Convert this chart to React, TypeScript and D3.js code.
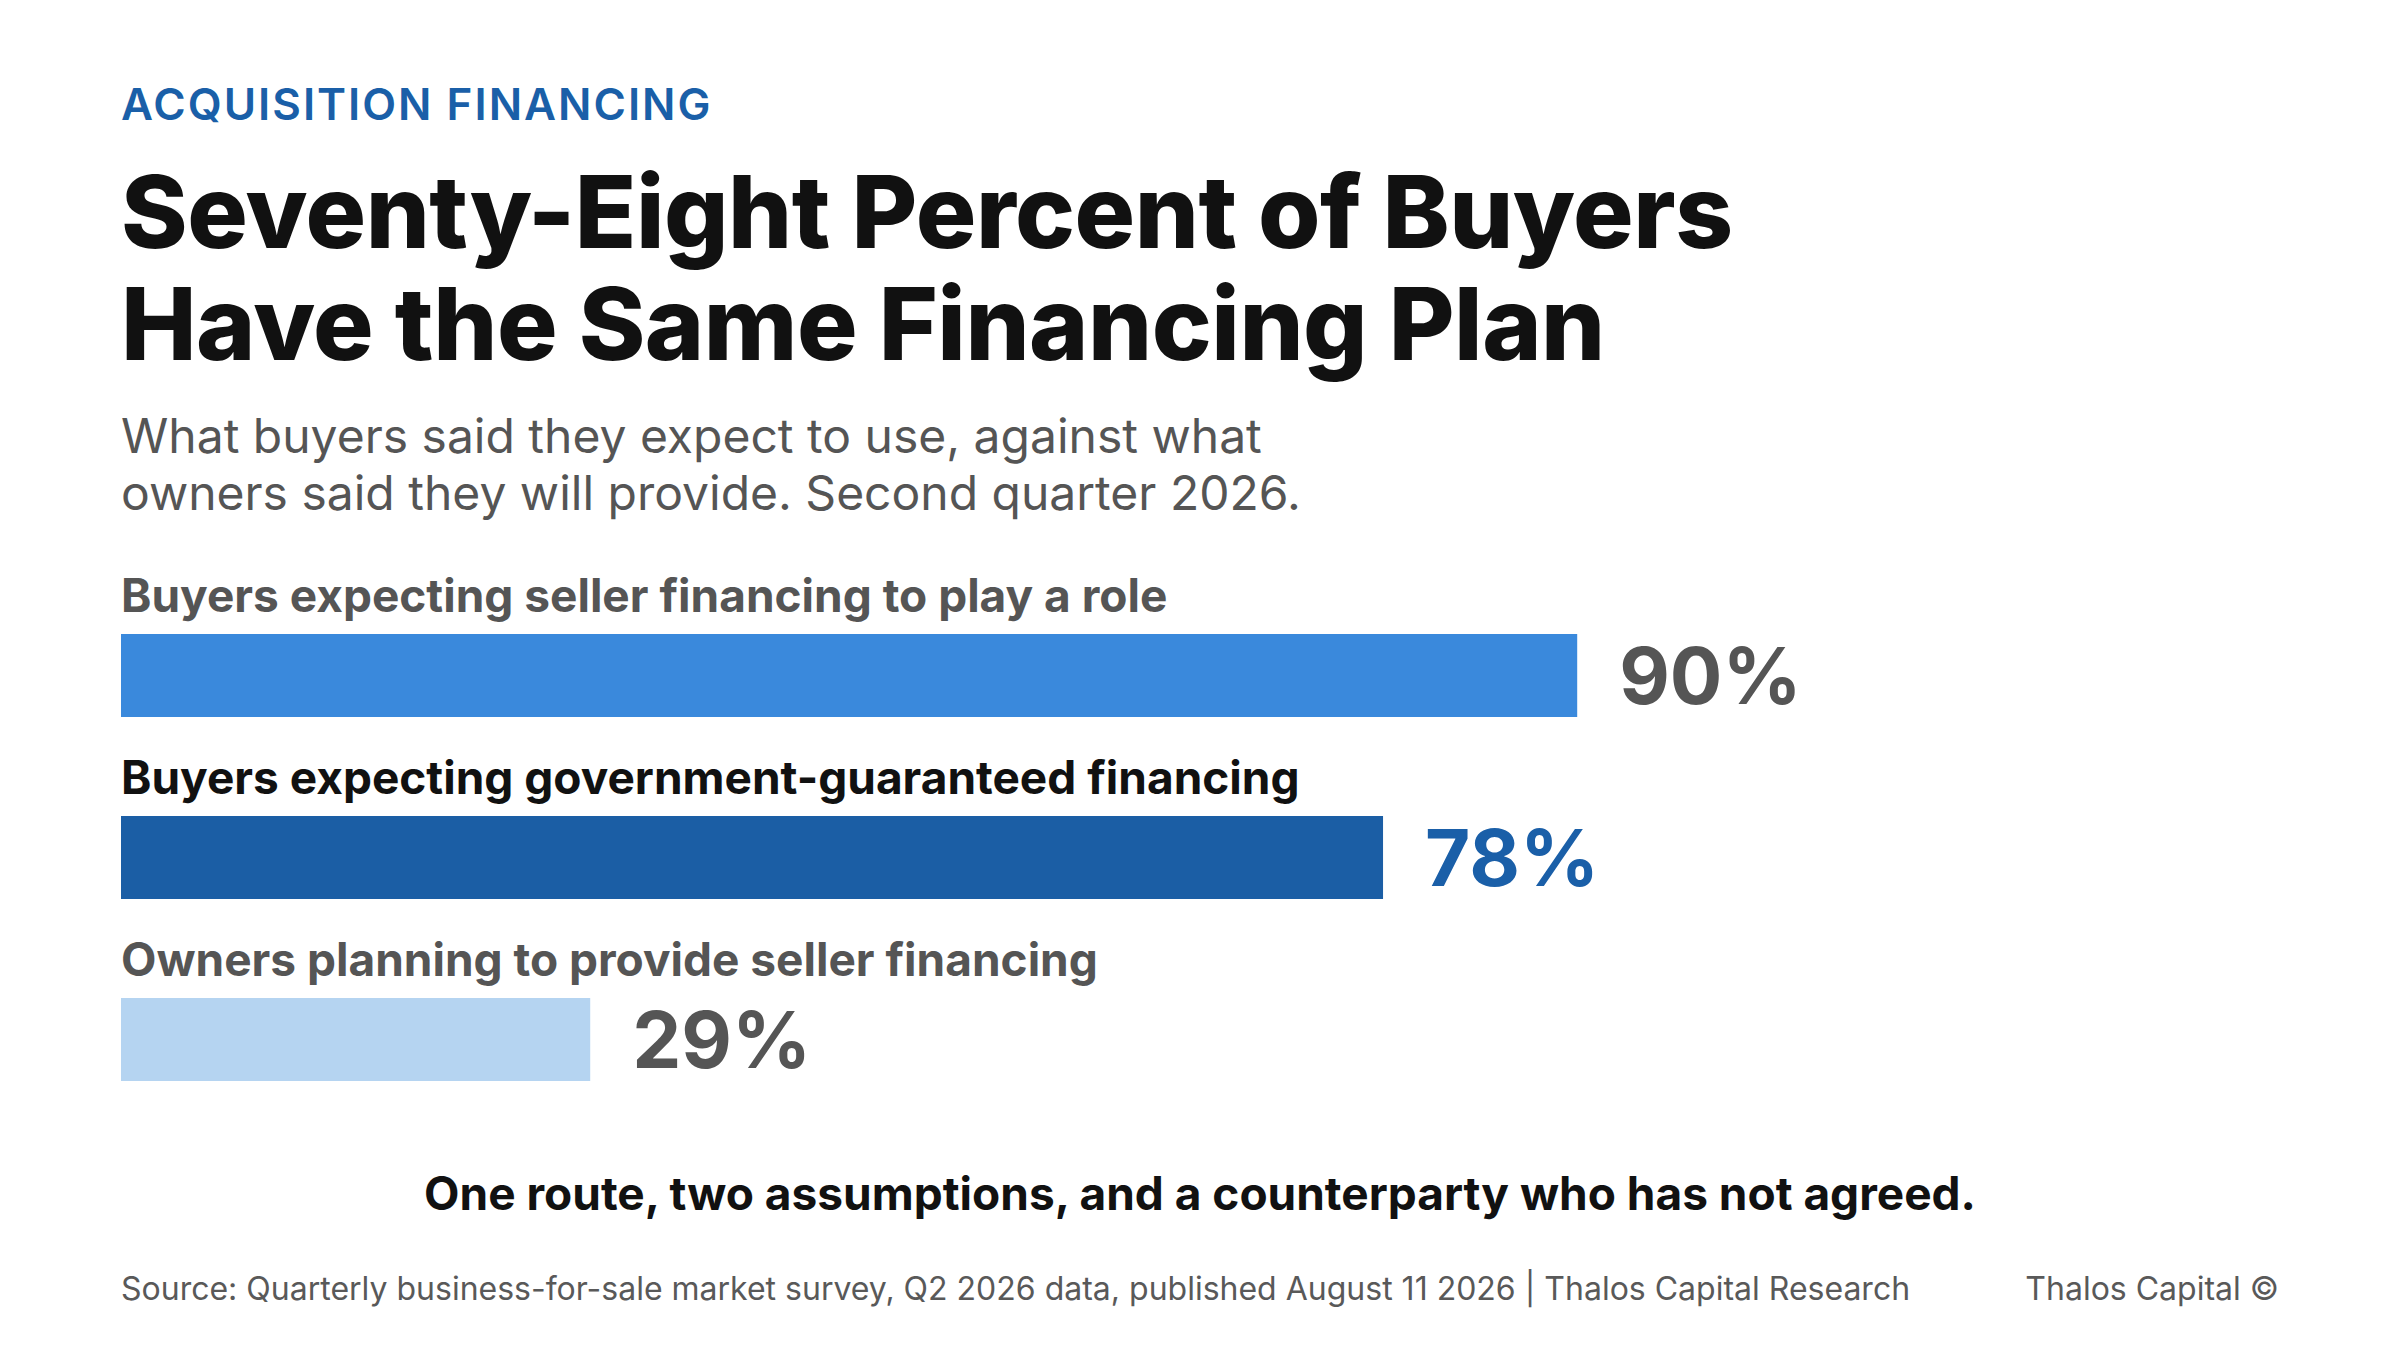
import React, { useEffect } from 'react';
import * as d3 from 'd3';

// data
const categories = [
  'Buyers expecting seller financing to play a role',
  'Buyers expecting government-guaranteed financing',
  'Owners planning to provide seller financing',
];
const values = [90, 78, 29];
const highlight = 'Buyers expecting government-guaranteed financing';

const kicker = 'ACQUISITION FINANCING';
const titleLines = ['Seventy-Eight Percent of Buyers', 'Have the Same Financing Plan'];
const subtitleLines = [
  'What buyers said they expect to use, against what',
  'owners said they will provide. Second quarter 2026.',
];
const takeaway = 'One route, two assumptions, and a counterparty who has not agreed.';
const source =
  'Source: Quarterly business-for-sale market survey, Q2 2026 data, published August 11 2026 | Thalos Capital Research';
const brand = 'Thalos Capital ©';

const barColors = ['#3a89dc', '#1b5ea5', '#b5d4f1'];

const W = 2400;
const H = 1350;
const left = 121;
const font = 'Inter, "Noto Sans", sans-serif';

export default function App() {
  useEffect(() => {
    document.body.style.margin = '0';
  }, []);

  const x = d3.scaleLinear().domain([0, 100]).range([left, 1739]);
  const row = d3.scaleBand<string>().domain(categories).range([553, 1099]);
  const barTop = 81;
  const barH = 83;
  const valueSize = 78;

  return (
    <svg width={W} height={H} style={{ display: 'block', background: '#fff' }} fontFamily={font}>
      <text x={left} y={120} fontSize={44} fontWeight={600} fill="#1a5fa8" letterSpacing={2}>
        {kicker}
      </text>
      {titleLines.map((t, i) => (
        <text key={t} x={left} y={248 + i * 112} fontSize={101} fontWeight={800} fill="#111" letterSpacing={-0.5}>
          {t}
        </text>
      ))}
      {subtitleLines.map((t, i) => (
        <text key={t} x={left} y={453 + i * 56.5} fontSize={48} fontWeight={400} fill="#555">
          {t}
        </text>
      ))}

      {categories.map((c, i) => {
        const r = row(c) ?? 0;
        const hl = c === highlight;
        const cy = r + barTop + barH / 2;
        return (
          <g key={c}>
            <text x={left} y={r + 59} fontSize={46} fontWeight={700} fill={hl ? '#111' : '#555'}>
              {c}
            </text>
            <rect x={x(0)} y={r + barTop} width={x(values[i]) - x(0)} height={barH} fill={barColors[i]} />
            <text
              x={x(values[i]) + 42}
              y={cy + valueSize * 0.364}
              fontSize={valueSize}
              fontWeight={700}
              fill={hl ? '#1a5fa8' : '#555'}
            >
              {d3.format('d')(values[i])}%
            </text>
          </g>
        );
      })}

      <text x={W / 2} y={1210} textAnchor="middle" fontSize={46} fontWeight={700} fill="#111">
        {takeaway}
      </text>
      <text x={left} y={1300} fontSize={32} fill="#595959">
        {source}
      </text>
      <text x={W - left} y={1300} textAnchor="end" fontSize={32} fill="#595959">
        {brand}
      </text>
    </svg>
  );
}
